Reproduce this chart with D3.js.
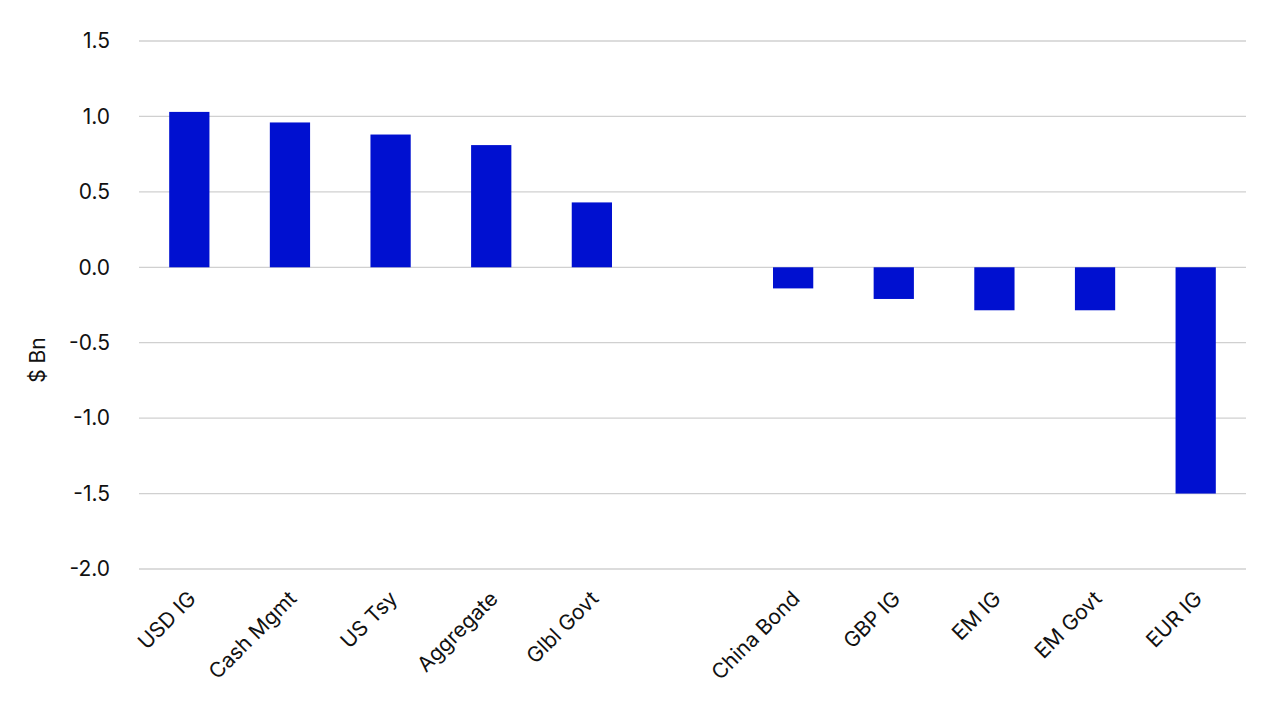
<!DOCTYPE html>
<html><head><meta charset="utf-8">
<script src="https://cdn.jsdelivr.net/npm/d3@7"></script>
<style>body{margin:0;background:#fff}svg{font-family:Inter,"Open Sans",sans-serif}</style>
</head><body><svg id="c" width="1280" height="720"></svg>
<script>
const categories = ["USD IG","Cash Mgmt","US Tsy","Aggregate","Glbl Govt","","China Bond","GBP IG","EM IG","EM Govt","EUR IG"];
const values = [1.03,0.96,0.88,0.81,0.43,null,-0.14,-0.21,-0.285,-0.285,-1.5];
const yTicks = [1.5,1.0,0.5,0.0,-0.5,-1.0,-1.5,-2.0];
const svg = d3.select("#c");
const x = d3.scaleBand().domain(d3.range(categories.length)).range([139,1246]).paddingInner(0.6).paddingOuter(0.3);
const y = d3.scaleLinear().domain([-2,1.5]).range([569,41]);
svg.append("g").selectAll("line").data(yTicks).join("line")
  .attr("x1",139).attr("x2",1246).attr("y1",d=>y(d)).attr("y2",d=>y(d))
  .attr("stroke","#d0d0d0").attr("stroke-width",1.3);
svg.append("g").selectAll("text").data(yTicks).join("text")
  .attr("x",110).attr("y",d=>y(d)).attr("dy","0.35em").attr("text-anchor","end")
  .attr("font-size",21).attr("fill","#111").text(d=>d.toFixed(1));
const data = categories.map((c,i)=>({c,i,v:values[i]})).filter(d=>d.v!=null);
svg.append("g").selectAll("rect").data(data).join("rect")
  .attr("x",d=>x(d.i)).attr("width",x.bandwidth())
  .attr("y",d=>y(Math.max(0,d.v))).attr("height",d=>Math.abs(y(d.v)-y(0)))
  .attr("fill","#0010d0");
svg.append("g").selectAll("text").data(categories.map((c,i)=>({c,i})).filter(d=>d.c)).join("text")
  .attr("transform",d=>`translate(${x(d.i)+x.bandwidth()/2+8},${600}) rotate(-45)`)
  .attr("text-anchor","end").attr("font-size",21).attr("fill","#111").text(d=>d.c);
svg.append("text").attr("transform","translate(45,360) rotate(-90)").attr("text-anchor","middle")
  .attr("font-size",21).attr("fill","#111").text("$ Bn");
</script></body></html>
